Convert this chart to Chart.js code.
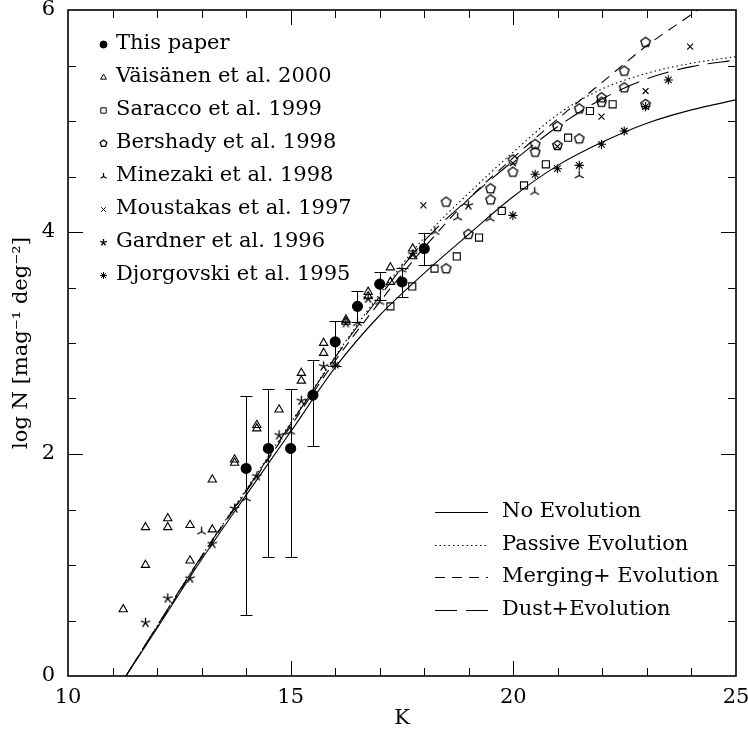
<!DOCTYPE html>
<html><head><meta charset="utf-8">
<script src="https://cdn.jsdelivr.net/npm/chart.js@4/dist/chart.umd.min.js"></script>
<style>html,body{margin:0;padding:0;background:#fff;}</style>
</head><body>
<canvas id="c" width="748" height="732"></canvas>
<script>
// ---- data ----
const thisPaperK    = [14, 14.5, 15, 15.5, 16, 16.5, 17, 17.5, 18];
const thisPaperLogN = [1.87, 2.05, 2.05, 2.53, 3.01, 3.33, 3.53, 3.55, 3.85];
const thisPaperLow  = [0.55, 1.07, 1.07, 2.07, 2.79, 3.19, 3.39, 3.41, 3.70];
const thisPaperHigh = [2.52, 2.59, 2.59, 2.85, 3.20, 3.47, 3.64, 3.68, 3.99];

const vaisanenK    = [11.24,11.74,11.74,12.24,12.24,12.74,12.74,13.24,13.24,13.74,13.74,14.24,14.24,14.74,15.24,15.24,15.74,15.74,16.24,16.24,16.74,16.74,17.24,17.24,17.74,17.74];
const vaisanenLogN = [0.60,1.00,1.34,1.34,1.42,1.04,1.36,1.32,1.77,1.92,1.95,2.23,2.26,2.40,2.66,2.73,2.91,3.00,3.19,3.21,3.42,3.46,3.55,3.68,3.78,3.85];

const saraccoK    = [17.24,17.73,18.23,18.73,19.23,19.74,20.24,20.73,21.23,21.72,22.23];
const saraccoLogN = [3.33,3.51,3.67,3.78,3.95,4.19,4.42,4.61,4.85,5.09,5.15];

const bershadyK    = [18.49,18.99,18.49,19.49,19.49,19.99,19.99,20.49,20.49,20.99,20.99,21.48,21.48,21.98,21.98,22.49,22.49,22.97,22.97];
const bershadyLogN = [3.67,3.98,4.27,4.29,4.39,4.54,4.65,4.72,4.79,4.78,4.95,4.84,5.11,5.17,5.21,5.30,5.45,5.15,5.71];

const minezakiK    = [13.0,14.0,15.0,16.5,17.0,17.5,18.24,18.75,19.48,20.48,21.48];
const minezakiLogN = [1.30,1.60,2.20,3.18,3.37,3.66,4.00,4.13,4.12,4.36,4.51];

const moustakasK    = [17.98,19.99,20.99,21.98,22.97,23.97];
const moustakasLogN = [4.24,4.62,4.77,5.04,5.27,5.67];

const gardnerK    = [11.74,12.24,12.74,13.24,13.74,14.24,14.74,15.24,15.74,16.24,16.74,17.74,18.99];
const gardnerLogN = [0.48,0.70,0.88,1.19,1.51,1.80,2.17,2.48,2.79,3.18,3.40,3.80,4.24];

const djorgovskiK    = [16.0,19.99,20.49,20.99,21.48,21.98,22.49,22.97,23.48];
const djorgovskiLogN = [2.80,4.15,4.52,4.57,4.60,4.79,4.91,5.13,5.37];

const modelK       = [11.3,12,13,14,15,16,17,18,19,20,21,22,23,24,25];
const noEvolution  = [0,0.43,1.05,1.63,2.20,2.78,3.25,3.63,3.98,4.32,4.60,4.81,4.98,5.10,5.19];
const passiveEvo   = [0,0.45,1.08,1.68,2.28,2.88,3.44,3.95,4.35,4.72,5.06,5.29,5.43,5.52,5.58];
const mergingEvo   = [0,0.44,1.07,1.66,2.25,2.84,3.37,3.86,4.30,4.67,5.02,5.35,5.68,5.96,6.25];
const dustEvo      = [0,0.45,1.08,1.67,2.27,2.87,3.42,3.92,4.30,4.64,4.95,5.20,5.38,5.49,5.55];

const xTickLabels = [10, 15, 20, 25];
const yTickLabels = [0, 2, 4, 6];

const pointLegend = ['This paper','Väisänen et al. 2000','Saracco et al. 1999','Bershady et al. 1998','Minezaki et al. 1998','Moustakas et al. 1997','Gardner et al. 1996','Djorgovski et al. 1995'];
const lineLegend  = ['No Evolution','Passive Evolution','Merging+ Evolution','Dust+Evolution'];

// ---- helpers ----
const zip = (a, b) => a.map((v, i) => ({x: v, y: b[i]}));
function makeSym(size, draw) {
  const c = document.createElement('canvas');
  c.width = size; c.height = size;
  const g = c.getContext('2d');
  g.strokeStyle = '#000'; g.lineWidth = 1.3;
  draw(g, size / 2);
  return c;
}
function pentagon(r) {
  return makeSym(15, (g, c) => {
    g.beginPath();
    for (let i = 0; i < 5; i++) {
      const a = -Math.PI/2 + i*2*Math.PI/5;
      const px = c + r*Math.cos(a), py = c + r*Math.sin(a);
      i ? g.lineTo(px, py) : g.moveTo(px, py);
    }
    g.closePath(); g.stroke();
  });
}
function spokes(r, n, start) {
  return makeSym(15, (g, c) => {
    g.beginPath();
    for (let i = 0; i < n; i++) {
      const a = start + i*2*Math.PI/n;
      g.moveTo(c, c); g.lineTo(c + r*Math.cos(a), c + r*Math.sin(a));
    }
    g.stroke();
  });
}
const pentBig = pentagon(5), pentSmall = pentagon(3.5);
const tripBig = spokes(5, 3, -Math.PI/2), tripSmall = spokes(3.5, 3, -Math.PI/2);
const gardBig = spokes(5, 5, -Math.PI/2), gardSmall = spokes(3.5, 5, -Math.PI/2);

const FONT = 'DejaVu Serif';
const FS = 21;

const pointSets = [
  {k: thisPaperK, v: thisPaperLogN, style: 'circle', r: 5, fill: '#000', small: {style:'circle', r:3.5}},
  {k: vaisanenK, v: vaisanenLogN, style: 'triangle', r: 4.8, small: {style:'triangle', r:3.4}},
  {k: saraccoK, v: saraccoLogN, style: 'rect', r: 5, small: {style:'rect', r:3.8}},
  {k: bershadyK, v: bershadyLogN, style: pentBig, r: 5, small: {style: pentSmall, r:3.5}},
  {k: minezakiK, v: minezakiLogN, style: tripBig, r: 5, small: {style: tripSmall, r:3.5}},
  {k: moustakasK, v: moustakasLogN, style: 'crossRot', r: 4.2, small: {style:'crossRot', r:3.2}},
  {k: gardnerK, v: gardnerLogN, style: gardBig, r: 5, small: {style: gardSmall, r:3.5}},
  {k: djorgovskiK, v: djorgovskiLogN, style: 'star', r: 4.6, small: {style:'star', r:3.4}},
];
const lineSets = [
  {v: noEvolution, dash: []},
  {v: passiveEvo, dash: [1.5, 3]},
  {v: mergingEvo, dash: [10, 7]},
  {v: dustEvo, dash: [22, 9]},
];

const datasets = [];
lineSets.forEach((s, i) => datasets.push({
  label: lineLegend[i], data: zip(modelK, s.v), showLine: true,
  borderColor: '#000', borderWidth: 1.1, borderDash: s.dash,
  pointRadius: 0, cubicInterpolationMode: 'monotone', fill: false
}));
pointSets.forEach((s, i) => datasets.push({
  label: pointLegend[i], data: zip(s.k, s.v), showLine: false,
  pointStyle: s.style, pointRadius: s.r, pointBorderWidth: 1.1,
  pointBorderColor: '#000', pointBackgroundColor: s.fill || 'rgba(0,0,0,0)'
}));

// ---- plugins ----
const errorBars = {
  id: 'errorBars',
  beforeDatasetsDraw(chart) {
    const {ctx, scales: {x, y}} = chart;
    ctx.save(); ctx.strokeStyle = '#000'; ctx.lineWidth = 1;
    thisPaperK.forEach((k, i) => {
      const px = Math.round(x.getPixelForValue(k)) + 0.5;
      const y1 = Math.round(y.getPixelForValue(thisPaperLow[i])) + 0.5, y2 = Math.round(y.getPixelForValue(thisPaperHigh[i])) + 0.5;
      ctx.beginPath();
      ctx.moveTo(px, y1); ctx.lineTo(px, y2);
      ctx.moveTo(px - 6, y1); ctx.lineTo(px + 6, y1);
      ctx.moveTo(px - 6, y2); ctx.lineTo(px + 6, y2);
      ctx.stroke();
    });
    ctx.restore();
  }
};
const frameTicks = {
  id: 'frameTicks',
  afterDatasetsDraw(chart) {
    const {ctx, chartArea: a, scales: {x, y}} = chart;
    ctx.save(); ctx.strokeStyle = '#000';
    ctx.lineWidth = 1;
    ctx.beginPath();
    for (let k = 11; k < 25; k++) {
      const px = Math.round(x.getPixelForValue(k)) + 0.5;
      const L = (k % 5 === 0) ? 15 : 8;
      ctx.moveTo(px, a.bottom); ctx.lineTo(px, a.bottom - L);
      ctx.moveTo(px, a.top); ctx.lineTo(px, a.top + L);
    }
    for (let j = 1; j < 12; j++) {
      const v = j * 0.5;
      const py = Math.round(y.getPixelForValue(v)) + 0.5;
      const L = (j % 4 === 0) ? 15 : 8;
      ctx.moveTo(a.left, py); ctx.lineTo(a.left + L, py);
      ctx.moveTo(a.right, py); ctx.lineTo(a.right - L, py);
    }
    ctx.stroke();
    ctx.lineWidth = 1.6;
    ctx.strokeRect(a.left, a.top, a.right - a.left, a.bottom - a.top);
    ctx.restore();
  }
};
const legends = {
  id: 'legends',
  afterDraw(chart) {
    const {ctx} = chart;
    ctx.save();
    ctx.font = FS + 'px "' + FONT + '"';
    ctx.fillStyle = '#000'; ctx.strokeStyle = '#000';
    ctx.textBaseline = 'middle'; ctx.textAlign = 'left';
    const rows1 = [44, 77, 110, 143, 176, 209, 242, 275];
    pointSets.forEach((s, i) => {
      ctx.fillStyle = s.fill || 'rgba(0,0,0,0)';
      ctx.strokeStyle = '#000'; ctx.lineWidth = 1;
      Chart.helpers.drawPoint(ctx, {pointStyle: s.small.style, radius: s.small.r, rotation: 0, borderWidth: 1}, 103.5, rows1[i] + 0.5);
      ctx.fillStyle = '#000';
      ctx.fillText(pointLegend[i], 116, rows1[i]);
    });
    const rows2 = [512, 545, 577, 610];
    lineSets.forEach((s, i) => {
      ctx.beginPath(); ctx.setLineDash(s.dash); ctx.lineWidth = 1.1;
      ctx.moveTo(435, rows2[i] + 0.5); ctx.lineTo(488, rows2[i] + 0.5); ctx.stroke();
      ctx.setLineDash([]);
      ctx.fillText(lineLegend[i], 502, rows2[i]);
    });
    ctx.restore();
  }
};

new Chart(document.getElementById('c'), {
  type: 'scatter',
  data: {datasets},
  options: {
    responsive: false, animation: false, events: [],
    layout: {padding: {top: 10, right: 12, left: 0, bottom: 0}},
    plugins: {legend: {display: false}, tooltip: {enabled: false}},
    scales: {
      x: {
        type: 'linear', min: 10, max: 25,
        afterFit(s) { s.height = 56; s.paddingLeft = 0; s.paddingRight = 0; },
        afterBuildTicks(s) { s.ticks = xTickLabels.map(v => ({value: v})); },
        grid: {display: false, drawTicks: false}, border: {display: false},
        ticks: {padding: 9, color: '#000', font: {family: FONT, size: FS}, maxRotation: 0, autoSkip: false},
        title: {display: true, text: 'K', color: '#000', font: {family: FONT, size: FS}, padding: {top: 0, bottom: 1}}
      },
      y: {
        type: 'linear', min: 0, max: 6,
        afterFit(s) { s.width = 68; s.paddingTop = 0; s.paddingBottom = 0; },
        afterBuildTicks(s) { s.ticks = yTickLabels.map(v => ({value: v})); },
        grid: {display: false, drawTicks: false}, border: {display: false},
        ticks: {padding: 13, color: '#000', font: {family: FONT, size: FS}, autoSkip: false},
        title: {display: true, text: 'log N [mag⁻¹ deg⁻²]', color: '#000', font: {family: FONT, size: FS}, padding: {top: 9, bottom: 0}}
      }
    }
  },
  plugins: [errorBars, frameTicks, legends]
});
</script>
</body></html>
